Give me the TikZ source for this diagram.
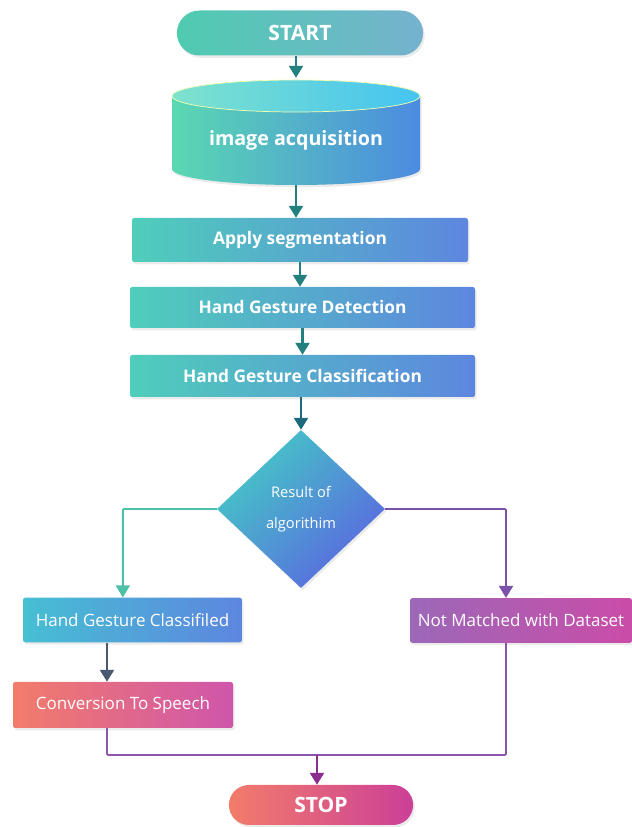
\documentclass[tikz,border=0pt]{standalone}
\usepackage{fontspec}
\setmainfont{Open Sans}
\usepackage{xcolor}
\usepackage{tikz}
\usetikzlibrary{arrows.meta, positioning, calc, shapes, shadows}

\definecolor{tealL}{HTML}{4FCBB0}
\definecolor{tealR}{HTML}{76B2CE}
\definecolor{cylL}{HTML}{5AD8B2}
\definecolor{cylR}{HTML}{4C8BE0}
\definecolor{capL}{HTML}{7EE2CC}
\definecolor{capR}{HTML}{45C4F2}
\definecolor{procL}{HTML}{4FCEBA}
\definecolor{procR}{HTML}{5D86DF}
\definecolor{cyanL}{HTML}{46BFD3}
\definecolor{diaL}{HTML}{45C8C6}
\definecolor{diaR}{HTML}{5A68E0}
\definecolor{purpL}{HTML}{9C68B8}
\definecolor{purpR}{HTML}{CA4CA8}
\definecolor{coralL}{HTML}{F27C6A}
\definecolor{coralR}{HTML}{CF55AC}
\definecolor{stopR}{HTML}{CC3F98}
\definecolor{arrowTeal}{HTML}{22807F}
\definecolor{arrowDeep}{HTML}{1D6A7C}
\definecolor{lineGreen}{HTML}{4DC0A8}
\definecolor{linePurple}{HTML}{7B52A8}
\definecolor{lineSlate}{HTML}{4A5870}
\definecolor{lineMerge}{HTML}{8A55AA}
\definecolor{arrowPlum}{HTML}{8A2F90}

\begin{document}
\begin{tikzpicture}[
    shadowed/.style={drop shadow={opacity=0.16, shadow xshift=0.05cm, shadow yshift=-0.07cm}},
    proc/.style={rectangle, rounded corners=2pt, text=white, shadowed,
        left color=procL, right color=procR, font=\bfseries\fontsize{14.8}{17}\selectfont},
    side/.style={rectangle, rounded corners=2pt, text=white, shadowed,
        minimum height=1.34cm, font=\fontsize{14.5}{17}\selectfont},
    pill/.style={rounded rectangle, text=white, shadowed,
        font=\bfseries\fontsize{18}{20}\selectfont},
    flow/.style={-{Triangle[length=0.36cm, width=0.42cm]}, line width=2.1pt},
    link/.style={line width=1.6pt, rounded corners=1pt}
]
    \useasboundingbox (0,0) rectangle (18.96,24.81);

    % start
    \node[pill, minimum width=7.62cm, minimum height=1.35cm,
          left color=tealL, right color=tealR] (start) at (9.0,23.82) {START};

    % image acquisition cylinder
    \shade[shadowed, left color=cylL, right color=cylR]
        (5.16,21.93) -- (5.16,19.74)
        arc[start angle=180, end angle=360, x radius=3.72, y radius=0.48]
        -- (12.6,21.93)
        arc[start angle=0, end angle=180, x radius=3.72, y radius=0.48] -- cycle;
    \shade[left color=capL, right color=capR, draw=green!15!yellow!30, line width=0.6pt]
        (8.88,21.93) ellipse[x radius=3.72, y radius=0.48];
    \node[minimum width=7.44cm, minimum height=3.21cm, inner sep=0pt,
          label={[text=white, yshift=-0.27cm, font=\bfseries\fontsize{16.8}{19}\selectfont]center:image acquisition}]
          (img) at (8.88,20.865) {};

    % processing steps
    \node[proc, minimum width=10.08cm, minimum height=1.32cm] (seg) at (9.0,17.61) {Apply segmentation};
    \node[proc, minimum width=10.35cm, minimum height=1.23cm] (det) at (9.075,15.585) {Hand Gesture Detection};
    \node[proc, minimum width=10.35cm, minimum height=1.26cm] (cls) at (9.075,13.53) {Hand Gesture Classification};

    % decision
    \node[diamond, shadowed, inner sep=0pt, minimum width=5.04cm, minimum height=4.74cm,
          text=white, align=center, top color=diaL, bottom color=diaR, shading angle=45,
          font=\fontsize{12.5}{27}\selectfont] (dia) at (9.03,9.54) {Result of\\algorithim};

    % outcomes
    \node[side, minimum width=6.57cm, left color=cyanL, right color=procR] (hgc) at (3.975,6.21) {Hand Gesture Classifiled};
    \node[side, minimum width=6.66cm, left color=purpL, right color=purpR] (nmd) at (15.63,6.195) {Not Matched with Dataset};
    \node[side, minimum width=6.6cm, minimum height=1.38cm, left color=coralL, right color=coralR] (conv) at (3.69,3.66) {Conversion To Speech};

    % stop
    \node[pill, minimum width=5.76cm, minimum height=1.2cm,
          left color=coralL, right color=stopR] (stop) at (9.63,0.66) {STOP};

    \coordinate (colL) at (3.21,0);
    \coordinate (colR) at (15.18,0);
    \coordinate (join) at (9.51,2.16);

    % connectors
    \draw[flow, arrowTeal] (start.south -| img.north) -- (img.north);
    \draw[flow, arrowTeal] (img.south) -- (img.south |- seg.north);
    \draw[flow, arrowTeal] (seg.south) -- (seg.south |- det.north);
    \draw[flow, arrowTeal] (det.south) -- (det.south |- cls.north);
    \draw[flow, arrowDeep] (cls.south -| dia.north) -- (dia.north);
    \draw[flow, link, lineGreen] (dia.west) -| ([xshift=-0.29cm]hgc.north);
    \draw[flow, link, linePurple] (dia.east) -| (colR |- nmd.north);
    \draw[flow, lineSlate] (hgc.south -| colL) -- (conv.north -| colL);
    \draw[link, lineMerge] (conv.south -| colL) |- (join) -| (nmd.south -| colR);
    \draw[flow, arrowPlum] (join) -- (join |- stop.north);
\end{tikzpicture}
\end{document}
